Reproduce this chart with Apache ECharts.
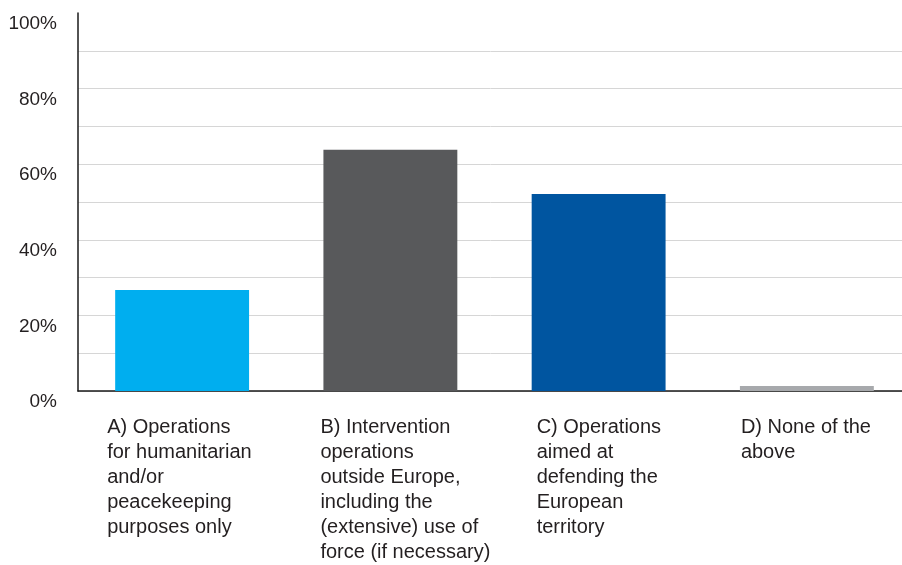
<!DOCTYPE html>
<html>
<head>
<meta charset="utf-8">
<script src="https://cdn.jsdelivr.net/npm/echarts@6/dist/echarts.min.js"></script>
<style>
html,body{margin:0;padding:0;background:#fff;}
#chart{width:902px;height:565px;}
</style>
</head>
<body>
<div id="chart"></div>
<script>
// ---- data ----
const categories = [
  "A) Operations\nfor humanitarian\nand/or\npeacekeeping\npurposes only",
  "B) Intervention\noperations\noutside Europe,\nincluding the\n(extensive) use of\nforce (if necessary)",
  "C) Operations\naimed at\ndefending the\nEuropean\nterritory",
  "D) None of the\nabove"
];
const values = [26.7, 63.8, 52.1, 1.3];
const yTickLabels = [0, 20, 40, 60, 80, 100];

// ---- style ----
const barColors = ["#00aeef", "#58595b", "#0055a0", "#a7a9ac"];
const labelBoxWidths = [150, 140, 124, 132];
const textColor = "#231f20";
const font = "'Liberation Sans', Arial, sans-serif";

const rich = {};
labelBoxWidths.forEach((w, i) => {
  rich['c' + i] = {
    width: w, align: 'left', fontSize: 20, lineHeight: 25,
    color: textColor, fontFamily: font
  };
});

const chart = echarts.init(document.getElementById('chart'), null, {renderer: 'canvas'});
chart.setOption({
  animation: false,
  backgroundColor: '#fff',
  grid: {left: 78, top: 13, bottom: 174, width: 833, containLabel: false, outerBoundsMode: 'none'},
  xAxis: {
    type: 'category',
    data: categories,
    axisLine: {show: true, lineStyle: {color: '#1a1a1a', width: 1.5}},
    axisTick: {show: false},
    axisLabel: {
      interval: 0,
      margin: 24,
      align: 'center',
      verticalAlign: 'top',
      formatter: (value, idx) => value.split('\n').map(l => '{c' + idx + '|' + l + '}').join('\n'),
      rich: rich
    },
    splitLine: {show: false}
  },
  yAxis: {
    type: 'value',
    min: 0, max: 100, interval: 10,
    axisLine: {show: true, lineStyle: {color: '#1a1a1a', width: 1.5}},
    axisTick: {show: false},
    splitLine: {show: true, showMaxLine: false, lineStyle: {color: '#d6d6d6', width: 1}},
    axisLabel: {
      margin: 21,
      fontSize: 19,
      lineHeight: 22,
      verticalAlign: 'top',
      color: textColor,
      fontFamily: font,
      formatter: (v) => yTickLabels.indexOf(v) >= 0 ? v + '%' : ''
    }
  },
  series: [{
    type: 'bar',
    barCategoryGap: '35.7%',
    data: values.map((v, i) => ({value: v, itemStyle: {color: barColors[i]}})),
    z: 3
  }]
});
</script>
</body>
</html>
